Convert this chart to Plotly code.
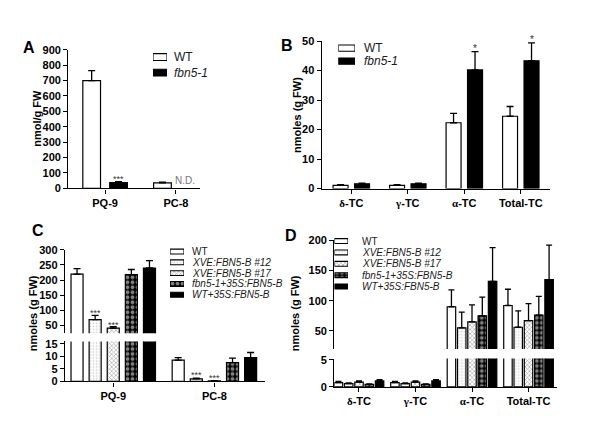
import plotly.graph_objects as go

W, H = 606, 435
def X(p): return p / W
def Y(p): return 1 - p / H

FONT = "Liberation Sans"

# ---------------- data ----------------
cats_A = ["PQ-9", "PC-8"]
A_wt = [700, 35]
A_wt_err = [65, 5]
A_fbn = [38, None]
A_fbn_err = [6, None]
A_yticks = [0, 100, 200, 300, 400, 500, 600, 700, 800, 900]

cats_B = ["δ-TC", "γ-TC", "α-TC", "Total-TC"]
B_wt = [1.1, 1.1, 22.3, 24.5]
B_wt_err = [0.2, 0.2, 3.2, 3.3]
B_fbn = [1.6, 1.6, 40.2, 43.3]
B_fbn_err = [0.2, 0.2, 6.2, 6.1]
B_yticks = [0, 10, 20, 30, 40, 50]

lines_CD = ["WT", "XVE:FBN5-B #12", "XVE:FBN5-B #17", "fbn5-1+35S:FBN5-B", "WT+35S:FBN5-B"]
legend_CD = ["WT", "<i>XVE:FBN5-B #12</i>", "<i>XVE:FBN5-B #17</i>",
             "<i>fbn5-1+35S:FBN5-B</i>", "<i>WT+35S:FBN5-B</i>"]

cats_C = ["PQ-9", "PC-8"]
C_wt = [220, 8.5]
C_wt_err = [18, 1.0]
C_x12 = [70, 1.0]
C_x12_err = [14, 0.3]
C_x17 = [42, 0.2]
C_x17_err = [5, 0.1]
C_fbn35 = [218, 7.5]
C_fbn35_err = [17, 1.8]
C_wt35 = [240, 9.5]
C_wt35_err = [24, 2.0]
C_upper_ticks = [50, 100, 150, 200, 250, 300]
C_lower_ticks = [0, 5, 10, 15]

cats_D = ["δ-TC", "γ-TC", "α-TC", "Total-TC"]
D_wt = [0.8, 0.8, 90, 92]
D_wt_err = [0.2, 0.2, 28, 27]
D_x12 = [0.6, 0.6, 55, 56]
D_x12_err = [0.15, 0.15, 26, 27]
D_x17 = [0.9, 0.9, 65, 67]
D_x17_err = [0.2, 0.2, 28, 28]
D_fbn35 = [0.45, 0.45, 75, 76]
D_fbn35_err = [0.1, 0.1, 31, 31]
D_wt35 = [1.1, 1.1, 132, 135]
D_wt35_err = [0.25, 0.25, 56, 57]
D_upper_ticks = [50, 100, 150, 200]
D_lower_ticks = [0, 5]

# ---------------- styles ----------------
S_WT = dict(color="white")
S_X12 = dict(color="white", pattern=dict(shape=".", fgcolor="#9a9a9a", bgcolor="white", size=3, solidity=0.25))
S_X17 = dict(color="white", pattern=dict(shape="x", fgcolor="#333333", bgcolor="white", size=3, solidity=0.35))
S_FBN35 = dict(color="black", pattern=dict(shape=".", fgcolor="white", bgcolor="black", size=5, solidity=0.45))
S_BLACK = dict(color="black")
styles_CD = [S_WT, S_X12, S_X17, S_FBN35, S_BLACK]

fig = go.Figure()

def marker_of(st, lw=1.2):
    m = dict(color=st["color"], line=dict(color="black", width=lw))
    if "pattern" in st:
        m["pattern"] = st["pattern"]
    return m

def add_bars(cats, vals, errs, xa, ya, offset, width, st, capw):
    fig.add_trace(go.Bar(
        x=cats, y=vals, xaxis=xa, yaxis=ya, offset=offset, width=width,
        marker=marker_of(st),
        error_y=dict(type="data", array=errs, arrayminus=[0] * len(errs), symmetric=False,
                     color="black", thickness=1.3, width=capw),
        showlegend=False, hoverinfo="skip"))

tickfont = dict(family=FONT, size=11, color="black", weight="bold")

def yax(domain, rng, ticks, anchor):
    return dict(domain=domain, range=rng, tickvals=ticks, anchor=anchor, showline=True,
                linecolor="black", linewidth=1.4, ticks="outside", ticklen=4, tickwidth=1.4,
                tickcolor="black", showgrid=False, zeroline=False, tickfont=tickfont,
                fixedrange=True)

def xax(domain, rng, cats, anchor, ticktext=None):
    d = dict(domain=domain, range=rng, type="category", categoryorder="array",
             categoryarray=cats, anchor=anchor, showline=True, linecolor="black",
             linewidth=1.4, ticks="outside", ticklen=4, tickwidth=1.4, tickcolor="black",
             showgrid=False, zeroline=False, tickfont=tickfont, fixedrange=True)
    if ticktext:
        d.update(tickmode="array", tickvals=cats, ticktext=ticktext)
    return d

greek_tt = ['<span style="font-family:Liberation Serif">δ</span>-TC',
            '<span style="font-family:Liberation Serif">γ</span>-TC',
            '<span style="font-family:Liberation Serif">α</span>-TC',
            'Total-TC']

layout = {}
# A
layout["xaxis"] = xax([X(68.3), X(200)], [-0.52, 1.34], cats_A, "y")
layout["yaxis"] = yax([Y(187.5), Y(45)], [0, 900], A_yticks, "x")
# B
layout["xaxis2"] = xax([X(321.7), X(550)], [-0.524, 3.517], cats_B, "y2", greek_tt)
layout["yaxis2"] = yax([Y(187.7), Y(36)], [0, 50], B_yticks, "x2")
# C
layout["xaxis3"] = xax([X(65), X(265)], [-0.477, 1.5], cats_C, "y3")
layout["yaxis3"] = yax([Y(386), Y(345)], [0, 15.9], C_lower_ticks, "x3")
layout["yaxis4"] = yax([Y(336.5), Y(250.7)], [25, 300], C_upper_ticks, "x3")
# D
layout["xaxis4"] = xax([X(334.3), X(557)], [-0.437, 3.504], cats_D, "y5", greek_tt)
layout["yaxis5"] = yax([Y(391.7), Y(362.5)], [0, 5.27], D_lower_ticks, "x4")
layout["yaxis6"] = yax([Y(352.7), Y(241)], [20, 200], D_upper_ticks, "x4")

# ---- A bars
add_bars(cats_A, A_wt, A_wt_err, "x", "y", -0.19 - 0.125, 0.25, S_WT, 3.5)
add_bars(cats_A, A_fbn, A_fbn_err, "x", "y", 0.19 - 0.125, 0.25, S_BLACK, 3.5)
# ---- B bars
add_bars(cats_B, B_wt, B_wt_err, "x2", "y2", -0.19 - 0.1325, 0.265, S_WT, 3.5)
add_bars(cats_B, B_fbn, B_fbn_err, "x2", "y2", 0.19 - 0.1325, 0.265, S_BLACK, 3.5)
# ---- C bars (upper & lower sections)
C_series = [(C_wt, C_wt_err), (C_x12, C_x12_err), (C_x17, C_x17_err),
            (C_fbn35, C_fbn35_err), (C_wt35, C_wt35_err)]
C_step, C_w = 0.179, 0.119
for i, ((v, e), st) in enumerate(zip(C_series, styles_CD)):
    off = (i - 2) * C_step - C_w / 2
    for ya in ("y4", "y3"):
        add_bars(cats_C, v, e, "x3", ya, off, C_w, st, 3.5)
# ---- D bars
D_series = [(D_wt, D_wt_err), (D_x12, D_x12_err), (D_x17, D_x17_err),
            (D_fbn35, D_fbn35_err), (D_wt35, D_wt35_err)]
D_step, D_w = 0.182, 0.15
for i, ((v, e), st) in enumerate(zip(D_series, styles_CD)):
    off = (i - 2) * D_step - D_w / 2
    for ya in ("y6", "y5"):
        add_bars(cats_D, v, e, "x4", ya, off, D_w, st, 3)

annotations = []

# ---- legends (swatches drawn as bars on hidden axes)
def add_legend(k, items, styles, box_l, box_r, yc0, step, box_h, text_x, fsize):
    n = len(items)
    xa, ya = "x%d" % (4 + k), "y%d" % (6 + k)
    layout["xaxis%d" % (4 + k)] = dict(domain=[X(box_l), X(box_r)], range=[0, 1], visible=False,
                                       fixedrange=True, anchor=ya)
    layout["yaxis%d" % (6 + k)] = dict(domain=[Y(yc0 + (n - 0.5) * step), Y(yc0 - 0.5 * step)],
                                       range=[n - 0.5, -0.5], visible=False, fixedrange=True,
                                       anchor=xa)
    for i, (label, st) in enumerate(zip(items, styles)):
        fig.add_trace(go.Bar(x=[1], y=[i], base=0, orientation="h", width=box_h / step,
                             xaxis=xa, yaxis=ya, marker=marker_of(st, 1.1), cliponaxis=False,
                             showlegend=False, hoverinfo="skip"))
        annotations.append(dict(text=label, x=X(text_x), y=Y(yc0 + i * step), xref="paper",
                                yref="paper", xanchor="left", yanchor="middle", showarrow=False,
                                font=dict(family=FONT, size=fsize, color="#1a1a1a")))

add_legend(1, ["WT", "<i>fbn5-1</i>"], [S_WT, S_BLACK], 153, 167, 52.5, 16, 7, 172, 12)
add_legend(2, ["WT", "<i>fbn5-1</i>"], [S_WT, S_BLACK], 338.3, 355, 43.3, 13.4, 6.5, 362, 12)
add_legend(3, legend_CD, styles_CD, 170, 184, 252.5, 11.1, 5, 190, 10)
add_legend(4, legend_CD, styles_CD, 334.5, 348, 241.7, 11.7, 5, 360, 10)

# ---- panel letters
for letter, px, py in [("A", 29, 43), ("B", 287, 41), ("C", 37.5, 231), ("D", 291, 236)]:
    annotations.append(dict(text="<b>%s</b>" % letter, x=X(px), y=Y(py), xref="paper", yref="paper",
                            xanchor="center", yanchor="middle", showarrow=False,
                            font=dict(family=FONT, size=16, color="black")))

# ---- y-axis titles
for txt, px, py in [("nmol/g FW", 37, 116), ("nmoles (g FW)", 297, 112),
                    ("nmoles (g FW)", 33, 316), ("nmoles (g FW)", 295, 316)]:
    annotations.append(dict(text="<b>%s</b>" % txt, x=X(px), y=Y(py), xref="paper", yref="paper",
                            textangle=-90, xanchor="center", yanchor="middle", showarrow=False,
                            font=dict(family=FONT, size=11, color="black")))

# ---- significance marks
def star(txt, xref, yref, xpos, ypos, shift, size=9):
    annotations.append(dict(text=txt, x=xpos, y=ypos, xref=xref, yref=yref, xanchor="center",
                            yanchor="bottom", yshift=shift, showarrow=False,
                            font=dict(family=FONT, size=size, color="#333333")))

star("***", "x", "y", 0 + 0.19, A_fbn[0] + A_fbn_err[0], -4)
star("*", "x2", "y2", 2 + 0.19, B_fbn[2] + B_fbn_err[2], -4, 10)
star("*", "x2", "y2", 3 + 0.19, B_fbn[3] + B_fbn_err[3], -4, 10)
star("***", "x3", "y4", 0 - C_step, C_x12[0] + C_x12_err[0], -5)
star("***", "x3", "y4", 0, C_x17[0] + C_x17_err[0], -5)
star("***", "x3", "y3", 1 - C_step, C_x12[1] + C_x12_err[1], -4)
star("***", "x3", "y3", 1, C_x17[1] + C_x17_err[1], -4)

annotations.append(dict(text="N.D.", x=1 + 0.13, y=0, xref="x", yref="y", xanchor="center",
                        yanchor="bottom", yshift=0, showarrow=False,
                        font=dict(family=FONT, size=10, color="#777777")))

fig.update_layout(layout)
fig.update_layout(width=W, height=H, margin=dict(l=0, r=0, t=0, b=0),
                  paper_bgcolor="white", plot_bgcolor="white", barmode="overlay",
                  showlegend=False, font=dict(family=FONT, color="black"),
                  annotations=annotations)

fig.write_html("out.html")
